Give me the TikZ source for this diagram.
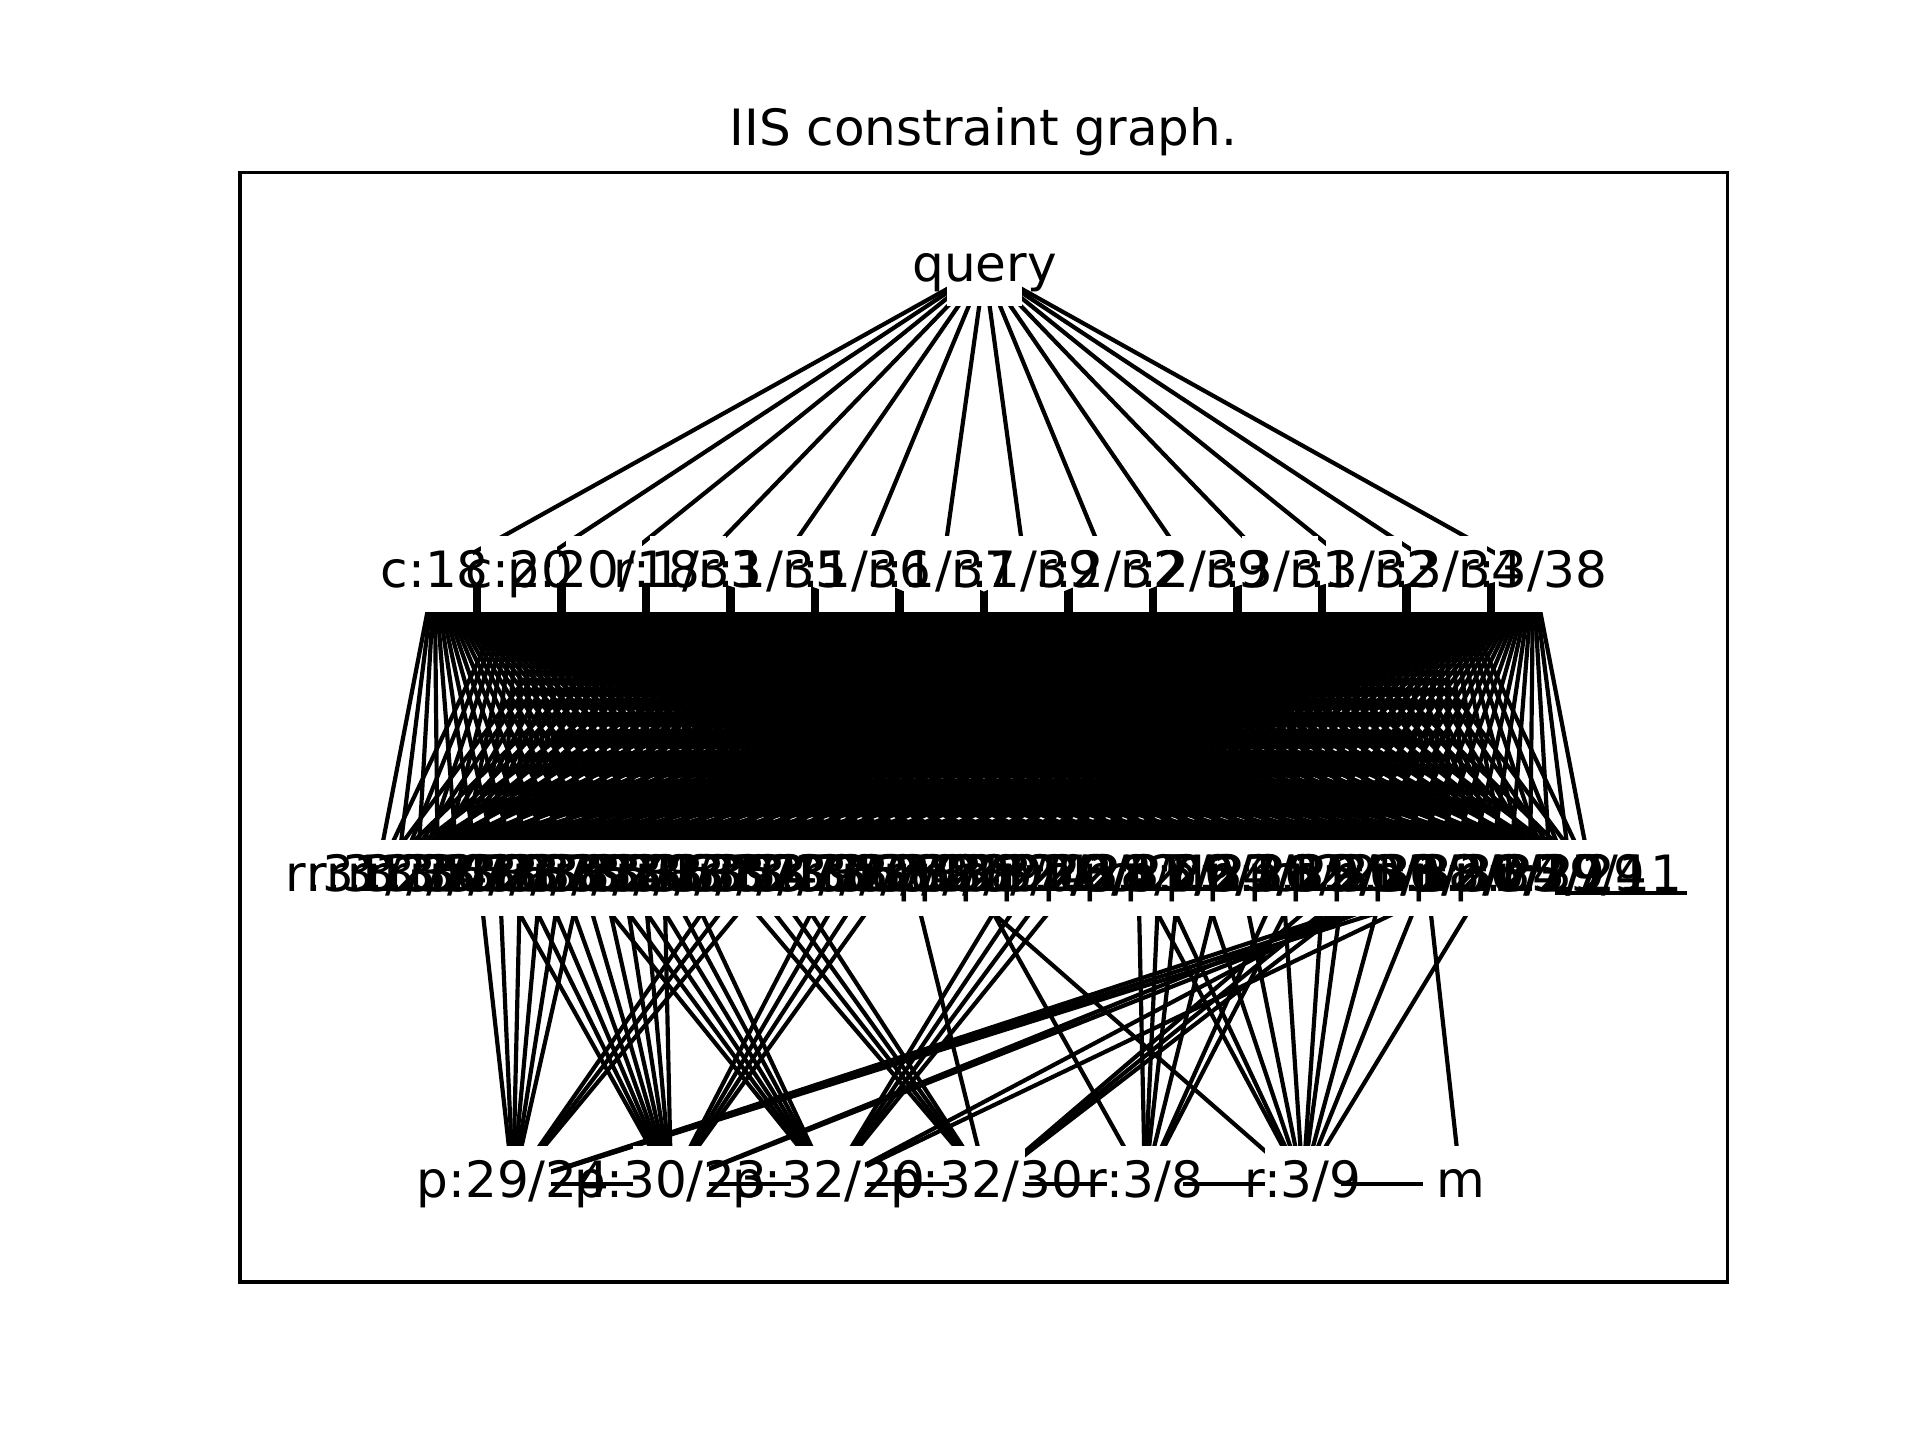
\documentclass[tikz,border=0pt]{standalone}
\usepackage{fontspec}
\setmainfont{DejaVu Sans}
\pgfdeclarelayer{edgelayer}
\pgfdeclarelayer{boxlayer}
\pgfsetlayers{edgelayer,boxlayer,main}
\begin{document}
\begin{tikzpicture}[x=0.012245cm,y=-0.012245cm,
  lbl/.style={inner sep=0pt,text height=0.87em,text depth=0.1em,font=\fontsize{14.23}{17}\selectfont},
  edge/.style={line width=1.19pt,black},
  frame/.style={line width=0.95pt,black},
  whitebox/.style={fill=white}]
\useasboundingbox (0,0) rectangle (1568,1176);
\node[lbl] (title) at (803,108) {IIS constraint graph.};
% nodes
\node[lbl] (q) at (804,219) {query};
\foreach \lab [count=\i from 0] in {c:18,c:20,p:20/18,r:1/33,r:1/35,r:1/36,r:1/37,r:1/39,r:2/32,r:2/39,r:3/31,r:3/32,r:3/34,r:3/38}
  {\node[lbl] (a\i) at ({355+69*\i},469) {\lab};}
\foreach \lab [count=\j from 0] in {r:31/35,r:31/36,r:32/37,r:33/38,r:31/39,r:34/36,r:35/37,r:32/38,r:36/39,r:33/35,r:37/38,r:31/34,r:35/36,r:32/33,r:34/37,r:38/39,r:36/37,r:33/34,r:31/37,r:35/39,r:32/36,r:34/35,r:37/39,r:33/36,r:31/38,r:36/38,r:32/34,r:35/38,r:34/39,r:33/37,p:20/24,p:21/26,c:20,p:22/28,r:1/31,p:23/27,r:2/37,p:24/29,c:21,p:25/23,r:1/34,p:26/21,r:2/36,p:27/22,r:3/35,p:28/25,c:22,p:29/20,r:2/33,p:30/22,r:1/38,p:31/27,r:3/36,p:32/24,r:2/35,p:30/29,r:1/37,p:27/24,r:3/29,r:29/11}
  {\node[lbl] (b\j) at ({307+16.83*\j},717) {\lab};}
\foreach \lab [count=\k from 1] in {p:29/24,p:30/23,p:32/20,p:32/30,r:3/8,r:3/9,m}
  {\node[lbl] (c\k) at ({290+129*\k},967) {\lab};}
\coordinate (u1) at (1270,729);
\coordinate (u2) at (1378,729);
% white node boxes
\begin{pgfonlayer}{boxlayer}
\fill[whitebox] (q.center) +(-31,-31) rectangle +(31,31);
\foreach \i in {0,...,13} \fill[whitebox] (a\i.center) +(-31,-31) rectangle +(31,31);
\foreach \j in {0,...,59} \fill[whitebox] (b\j.center) +(-31,-31) rectangle +(31,31);
\foreach \k in {1,...,7} \fill[whitebox] (c\k.center) +(-31,-31) rectangle +(31,31);
\end{pgfonlayer}
% edges
\begin{pgfonlayer}{edgelayer}
\foreach \i in {0,...,13} \draw[edge] (q.center) -- (a\i.center);
\foreach \i in {0,...,13} {\foreach \j in {0,...,59} {\draw[edge] (a\i.center) -- (b\j.center);}}
\foreach \j in {5,6,7,8,9,10,17,18,19,52,53,54} \draw[edge] (b\j.center) -- (c1.center);
\foreach \j in {6,7,8,9,10,11,12,13,14,22,23,24,25,51,52} \draw[edge] (b\j.center) -- (c2.center);
\foreach \j in {10,11,12,13,14,15,31,32,33,34,50,53} \draw[edge] (b\j.center) -- (c3.center);
\foreach \j in {17,18,19,20,26,47,48,49} \draw[edge] (b\j.center) -- (c4.center);
\foreach \j in {29,37,38,39,41,44,45} \draw[edge] (b\j.center) -- (c5.center);
\foreach \j in {28,37,38,40,42,44,46,47,49,51,54} \draw[edge] (b\j.center) -- (c6.center);
\draw[edge] (b51.center) -- (c7.center);
\foreach \k [evaluate=\k as \kn using int(\k+1)] in {1,...,6} \draw[edge] (c\k.center) -- (c\kn.center);
\end{pgfonlayer}
\draw[edge] (u1) -- (u2);
\draw[frame] (196,141) rectangle (1411,1047);
\end{tikzpicture}
\end{document}
